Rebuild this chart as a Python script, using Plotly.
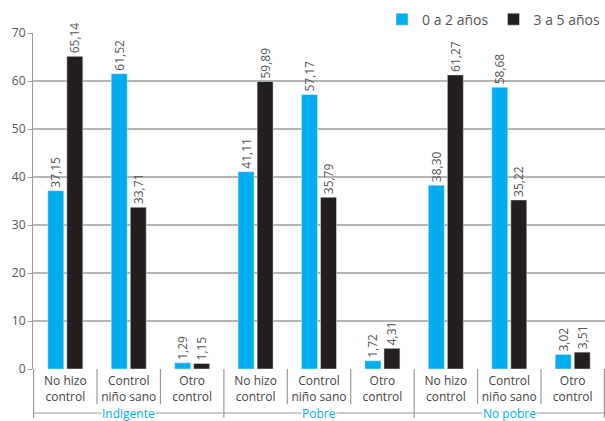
import plotly.graph_objects as go

groups = ["Indigente", "Pobre", "No pobre"]
subcats = ["No hizo<br>control", "Control<br>niño sano", "Otro<br>control"]
series_names = ["0 a 2 años", "3 a 5 años"]
vals_0_2 = [37.15, 61.52, 1.29, 41.11, 57.17, 1.72, 38.30, 58.68, 3.02]
vals_3_5 = [65.14, 33.71, 1.15, 59.89, 35.79, 4.31, 61.27, 35.22, 3.51]
y_ticks = [0, 10, 20, 30, 40, 50, 60, 70]

colors = ["#00AEEF", "#231F20"]
font_family = "Open Sans, Noto Sans, sans-serif"
gray = "#555555"

cats = [f"{g}|{s}" for g in groups for s in subcats]
ticktext = [s for g in groups for s in subcats]

def fmt(v):
    return f"{v:.2f}".replace(".", ",")

fig = go.Figure()
for name, vals, col in zip(series_names, [vals_0_2, vals_3_5], colors):
    fig.add_trace(go.Bar(
        x=cats, y=vals, name=name, marker_color=col,
        text=[fmt(v) for v in vals], textposition="outside", textangle=-90,
        textfont=dict(size=12, color="#555555", family=font_family),
        constraintext="none", cliponaxis=False,
    ))

n = len(cats)
line_y = -0.131
shapes = []
for i in range(n + 1):
    is_group = (i % len(subcats) == 0)
    shapes.append(dict(type="line", xref="x", yref="paper",
                       x0=i - 0.5, x1=i - 0.5, y0=0, y1=-0.146 if is_group else -0.105,
                       line=dict(color="#9a9a9a", width=1.2)))
shapes.append(dict(type="line", xref="x", yref="paper", x0=-0.5, x1=n - 0.5,
                   y0=line_y, y1=line_y, line=dict(color="#9a9a9a", width=1.2)))

annotations = []
for gi, g in enumerate(groups):
    annotations.append(dict(x=gi * len(subcats) + 1, y=line_y, xref="x", yref="paper",
                            text=g, showarrow=False, bgcolor="white", borderpad=0,
                            font=dict(color=colors[0], size=12, family=font_family),
                            xanchor="center", yanchor="middle"))

fig.update_layout(
    width=605, height=421,
    margin=dict(l=33, r=0, t=33, b=52),
    paper_bgcolor="white", plot_bgcolor="white",
    barmode="group", bargap=0.40, bargroupgap=0.16,
    font=dict(family=font_family, color=gray),
    legend=dict(orientation="h", x=1.0, xanchor="right", y=1.04, yanchor="middle",
                font=dict(size=14, color=gray, family=font_family),
                itemwidth=30, traceorder="normal"),
    shapes=shapes, annotations=annotations,
    xaxis=dict(type="category", tickmode="array", tickvals=cats, ticktext=ticktext,
               tickfont=dict(size=12, color="#444444", family=font_family),
               showline=False, ticks="", showgrid=False, ticklabelstandoff=3),
    yaxis=dict(range=[0, 70], tickvals=y_ticks, showgrid=True, gridcolor="#b5b5b5",
               gridwidth=1.5, zeroline=False, showline=True, linecolor="#9a9a9a",
               linewidth=1.2, ticks="outside", ticklen=4, tickcolor="#9a9a9a",
               tickfont=dict(size=12, color=gray, family=font_family)),
)

fig.write_html("out.html")
